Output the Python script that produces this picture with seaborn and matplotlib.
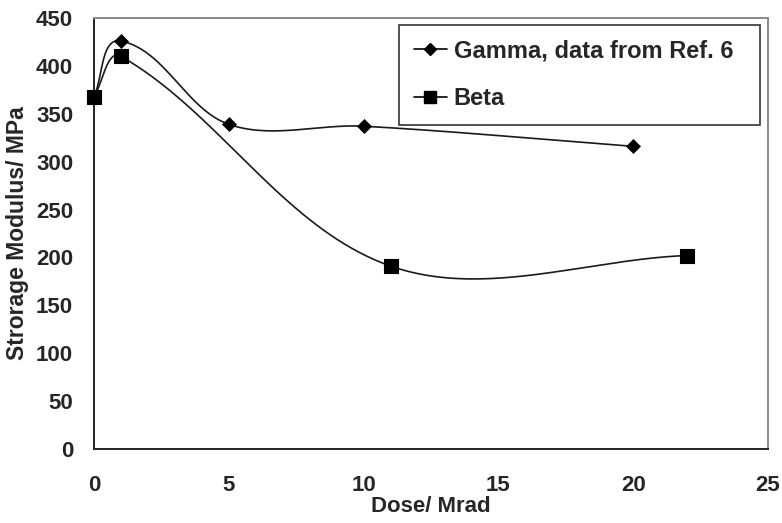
import numpy as np
import seaborn as sns
import matplotlib.pyplot as plt
from matplotlib.lines import Line2D

sns.set_style("white")
plt.rcParams["font.family"] = ["Liberation Sans", "DejaVu Sans"]
plt.rcParams["font.weight"] = "bold"

# ===================== DATA =====================
gamma_dose = [0, 1, 5, 10, 20]
gamma_modulus = [368, 426, 339, 337, 316]
beta_dose = [0, 1, 11, 22]
beta_modulus = [368, 410, 191, 202]

# pixel scale of the axes (used only to shape the smoothing)
PX_X, PX_Y = 27.0, 0.958


# Excel-style smoothed line: cubic Bezier, tangent from neighbours,
# control distance = 1/3 of the segment length (in screen space)
def smooth(xs, ys, n=80):
    p = np.column_stack([np.asarray(xs) * PX_X, np.asarray(ys) * PX_Y]).astype(float)
    m = len(p)
    tang = []
    for i in range(m):
        a = p[max(i - 1, 0)]
        b = p[min(i + 1, m - 1)]
        d = b - a
        tang.append(d / np.linalg.norm(d))
    out = []
    t = np.linspace(0, 1, n)[:, None]
    for i in range(m - 1):
        p1, p2 = p[i], p[i + 1]
        L = np.linalg.norm(p2 - p1) / 3
        c1 = p1 + tang[i] * L
        c2 = p2 - tang[i + 1] * L
        seg = ((1 - t) ** 3) * p1 + 3 * ((1 - t) ** 2) * t * c1 \
            + 3 * (1 - t) * t ** 2 * c2 + t ** 3 * p2
        out.append(seg)
    out = np.vstack(out)
    return out[:, 0] / PX_X, out[:, 1] / PX_Y


fig = plt.figure(figsize=(7.82, 5.23), dpi=100)
ax = fig.add_axes([0.1202, 0.1415, 0.8618, 0.8241])

line_kw = dict(color="#1a1a1a", linewidth=1.2)

gx, gy = smooth(gamma_dose, gamma_modulus)
bx, by = smooth(beta_dose, beta_modulus)
sns.lineplot(x=gx, y=gy, sort=False, estimator=None, ax=ax, **line_kw)
sns.lineplot(x=bx, y=by, sort=False, estimator=None, ax=ax, **line_kw)

sns.scatterplot(x=gamma_dose, y=gamma_modulus, marker="D", s=50,
                color="black", edgecolor="black", ax=ax, zorder=3,
                clip_on=False)
sns.scatterplot(x=beta_dose, y=beta_modulus, marker="s", s=100,
                color="black", edgecolor="black", ax=ax, zorder=3,
                clip_on=False)

ax.set_xlim(0, 25)
ax.set_ylim(0, 450)
ax.set_xticks(range(0, 26, 5))
ax.set_yticks(range(0, 451, 50))

fs = 16.5
ax.tick_params(axis="both", labelsize=16, direction="out", length=7,
               width=1.3, color="#222222")
ax.tick_params(axis="x", pad=12)
ax.tick_params(axis="y", pad=8)
for lab in ax.get_xticklabels() + ax.get_yticklabels():
    lab.set_fontweight("bold")

ax.set_xlabel("Dose/ Mrad", fontsize=16, fontweight="bold", labelpad=0)
ax.set_ylabel("Strorage Modulus/ MPa", fontsize=fs, fontweight="bold",
              labelpad=5)

for side in ["left", "bottom"]:
    ax.spines[side].set_color("#222222")
    ax.spines[side].set_linewidth(1.4)
for side in ["top", "right"]:
    ax.spines[side].set_color("#8a8a8a")
    ax.spines[side].set_linewidth(1.4)

# ===================== LEGEND =====================
handles = [
    Line2D([], [], color="black", linewidth=1.2, marker="D", markersize=6),
    Line2D([], [], color="black", linewidth=1.2, marker="s", markersize=8),
]
leg = ax.legend(handles, ["Gamma, data from Ref. 6", "Beta"],
                loc="upper left", bbox_to_anchor=(0.4525, 0.984, 0.5355, 0.0),
                mode="expand", borderaxespad=0, fontsize=17, frameon=True,
                fancybox=False, edgecolor="black", borderpad=0.62,
                labelspacing=1.05, handlelength=1.4, handletextpad=0.3,
                alignment="center")
leg.get_frame().set_linewidth(1.2)
for t in leg.get_texts():
    t.set_fontweight("bold")

fig.savefig("out.png", dpi=100)
